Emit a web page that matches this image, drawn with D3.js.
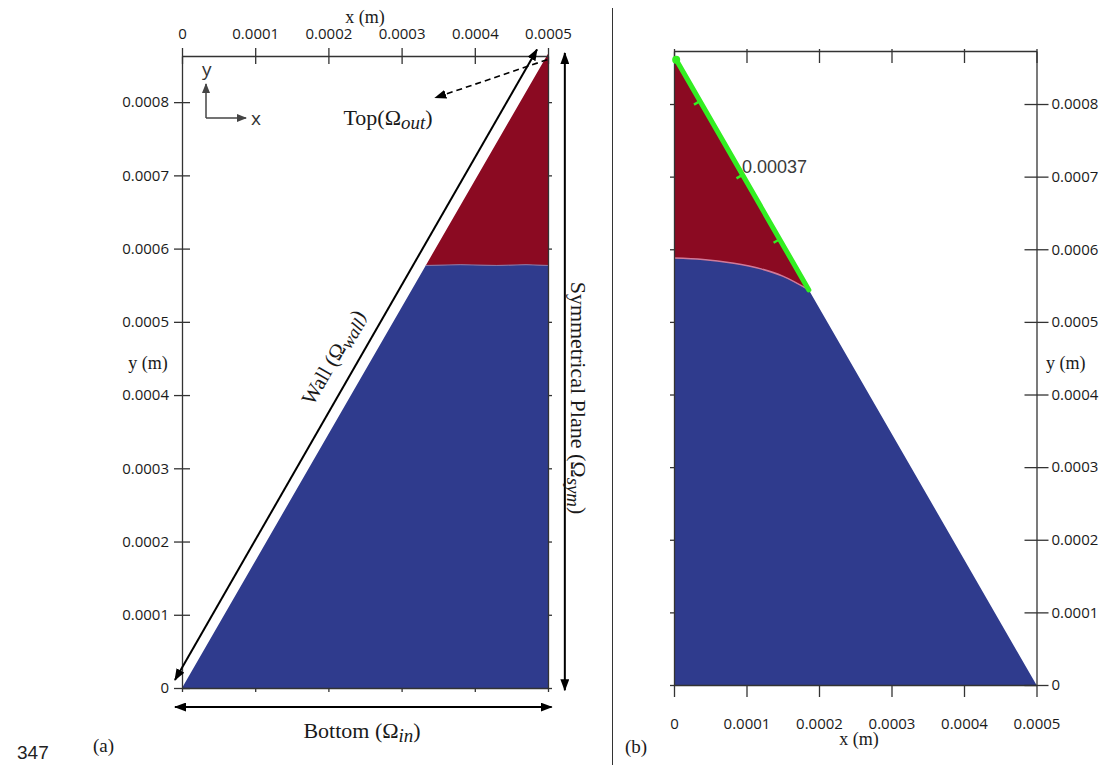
<!DOCTYPE html>
<html>
<head>
<meta charset="utf-8">
<script src="https://cdn.jsdelivr.net/npm/d3@7"></script>
<style>
    body { margin: 0; background: #fff; }
    .tick text { font-family: "Open Sans", sans-serif; font-size: 15px; fill: #1a1a1a; }
    .tick line, .domain { stroke: #333; stroke-width: 1.3px; }
    .serif { font-family: "Liberation Serif", "DejaVu Serif", serif; fill: #1a1a1a; }
</style>
</head>
<body>
<svg id="chart" width="1101" height="770"></svg>
<script>
// ticks (metres)
var xTicks = [0, 0.0001, 0.0002, 0.0003, 0.0004, 0.0005];
var yTicks = [0, 0.0001, 0.0002, 0.0003, 0.0004, 0.0005, 0.0006, 0.0007, 0.0008];
var tipY = 0.000866;   // apex of the 60 deg wall

// panel (a): liquid / gas interface
var aInterface = [[0.000333, 0.000577], [0.00038, 0.000578], [0.00043, 0.000577], [0.00047, 0.000578], [0.0005, 0.000577]];
// panel (b): curved interface from the axis to the wall
var bInterface = [[0, 0.000588], [0.00004, 0.000586], [0.00008, 0.000581], [0.00012, 0.000573], [0.00015, 0.000563], [0.000186, 0.000544]];
// green measuring line along the wall in (b)
var bGreen = [[0.000003, 0.000861], [0.000186, 0.000544]];
var greenLabel = "0.00037";

// arrows of panel (a), data units
var wallArrow = [[-0.0000096, 0.000011], [0.000485, 0.000872]];
var symArrow = [[0.000523, -0.000003], [0.000523, 0.000867]];
var bottomArrow = [[-0.0000096, -0.000026], [0.000505, -0.000026]];
var topArrow = [[0.000499, 0.000858], [0.000346, 0.000806]];

var svg = d3.select("#chart");
var fmt = function(d) { return d === 0 ? "0" : d.toFixed(4); };

var defs = svg.append("defs");
defs.append("marker").attr("id", "ah")
    .attr("viewBox", "0 0 12 9").attr("refX", 11).attr("refY", 4.5)
    .attr("markerWidth", 12).attr("markerHeight", 9)
    .attr("markerUnits", "userSpaceOnUse").attr("orient", "auto-start-reverse")
    .append("path").attr("d", "M0,0L12,4.5L0,9z").attr("fill", "#000");
defs.append("marker").attr("id", "ahg")
    .attr("viewBox", "0 0 10 8").attr("refX", 9).attr("refY", 4)
    .attr("markerWidth", 10).attr("markerHeight", 8)
    .attr("markerUnits", "userSpaceOnUse").attr("orient", "auto")
    .append("path").attr("d", "M0,0L10,4L0,8z").attr("fill", "#444");

// ---------------- panel (a) ----------------
var xA = d3.scaleLinear().domain([0, 0.0005]).range([182, 548]);
var yA = d3.scaleLinear().domain([0, 0.000863]).range([688, 56]);
var lineA = d3.line().x(function(d) { return xA(d[0]); }).y(function(d) { return yA(d[1]); });

var aBlue = [[0, 0], [0.0005, 0]].concat(aInterface.slice().reverse());
var aRed = aInterface.concat([[0.0005, tipY]]);
svg.append("path").attr("d", lineA(aBlue) + "Z").attr("fill", "#2f3b8d");
svg.append("path").attr("d", lineA(aRed) + "Z").attr("fill", "#8b0a22");
svg.append("path").attr("d", lineA(aInterface)).attr("fill", "none").attr("stroke", "#8a7aa8").attr("stroke-width", 1);

var gA = svg.append("g");
var axTopA = gA.append("g").attr("transform", "translate(0," + yA.range()[1] + ")")
    .call(d3.axisTop(xA).tickValues(xTicks).tickFormat(fmt).tickSizeInner(8).tickSizeOuter(0).tickPadding(9));
axTopA.selectAll(".tick line").attr("y1", 8);
var axLeftA = gA.append("g").attr("transform", "translate(" + xA(0) + ",0)")
    .call(d3.axisLeft(yA).tickValues(yTicks).tickFormat(fmt).tickSizeInner(8).tickSizeOuter(0).tickPadding(5));
axLeftA.selectAll(".tick line").attr("x1", 8);
gA.append("g").attr("transform", "translate(0," + yA(0) + ")")
    .call(d3.axisBottom(xA).tickValues(xTicks).tickFormat("").tickSizeInner(4).tickSizeOuter(0));
gA.append("g").attr("transform", "translate(" + xA(0.0005) + ",0)")
    .call(d3.axisRight(yA).tickValues(yTicks).tickFormat("").tickSizeInner(4).tickSizeOuter(0));

gA.append("text").attr("class", "serif").attr("x", 365).attr("y", 23).attr("text-anchor", "middle")
    .attr("font-size", 18).text("x (m)");
gA.append("text").attr("class", "serif").attr("x", 148).attr("y", 369).attr("text-anchor", "middle")
    .attr("font-size", 18).text("y (m)");

// arrows
[wallArrow, symArrow, bottomArrow].forEach(function(a) {
    svg.append("path").attr("d", lineA(a)).attr("stroke", "#000").attr("stroke-width", 2)
        .attr("fill", "none").attr("marker-start", "url(#ah)").attr("marker-end", "url(#ah)");
});
svg.append("path").attr("d", lineA(topArrow)).attr("stroke", "#000").attr("stroke-width", 1.6)
    .attr("stroke-dasharray", "6,4").attr("fill", "none").attr("marker-end", "url(#ah)");

// coordinate glyph
svg.append("path").attr("d", "M206,118V84").attr("stroke", "#444").attr("stroke-width", 1.5).attr("fill", "none").attr("marker-end", "url(#ahg)");
svg.append("path").attr("d", "M206,118H246").attr("stroke", "#444").attr("stroke-width", 1.5).attr("fill", "none").attr("marker-end", "url(#ahg)");
svg.append("text").attr("x", 202).attr("y", 76).attr("font-family", "Open Sans, sans-serif").attr("font-size", 19).attr("fill", "#333").text("y");
svg.append("text").attr("x", 251).attr("y", 125).attr("font-family", "Open Sans, sans-serif").attr("font-size", 19).attr("fill", "#333").text("x");

function mathLabel(sel, base, sub, size) {
    sel.append("tspan").text(base + "\u03A9");
    sel.append("tspan").attr("font-style", "italic").attr("font-size", size * 0.86).attr("dy", size * 0.2).text(sub);
    sel.append("tspan").attr("dy", -size * 0.2).text(")");
}
var tTop = svg.append("text").attr("class", "serif").attr("x", 388).attr("y", 125)
    .attr("text-anchor", "middle").attr("font-size", 22);
mathLabel(tTop, "Top(", "out", 22);
var tWall = svg.append("text").attr("class", "serif").attr("text-anchor", "middle").attr("font-size", 21)
    .attr("transform", "translate(333,357) rotate(-60)").attr("dy", "0.35em");
mathLabel(tWall, "Wall (", "wall", 21);
var tSym = svg.append("text").attr("class", "serif").attr("text-anchor", "middle").attr("font-size", 22)
    .attr("transform", "translate(579,398) rotate(90)").attr("dy", "0.35em");
mathLabel(tSym, "Symmetrical Plane (", "sym", 22);
var tBot = svg.append("text").attr("class", "serif").attr("x", 362).attr("y", 738)
    .attr("text-anchor", "middle").attr("font-size", 22);
mathLabel(tBot, "Bottom (", "in", 22);

svg.append("text").attr("class", "serif").attr("x", 93).attr("y", 752).attr("font-size", 19).text("(a)");
svg.append("text").attr("x", 17).attr("y", 759).attr("font-family", "Liberation Sans, sans-serif")
    .attr("font-size", 19).attr("fill", "#222").text("347");

// separator
svg.append("line").attr("x1", 612.5).attr("x2", 612.5).attr("y1", 8).attr("y2", 765)
    .attr("stroke", "#333").attr("stroke-width", 1);

// ---------------- panel (b) ----------------
var xB = d3.scaleLinear().domain([0, 0.0005]).range([674, 1036.5]);
var yB = d3.scaleLinear().domain([0, 0.000873]).range([685, 51]);
var lineB = d3.line().x(function(d) { return xB(d[0]); }).y(function(d) { return yB(d[1]); });
var curveB = d3.line().x(function(d) { return xB(d[0]); }).y(function(d) { return yB(d[1]); }).curve(d3.curveMonotoneX);

var last = bInterface[bInterface.length - 1];
svg.append("path").attr("d", "M" + xB(0) + "," + yB(0) + "L" + xB(0.0005) + "," + yB(0) + "L" +
    xB(last[0]) + "," + yB(last[1]) +
    curveB(bInterface.slice().reverse()).replace(/^M[^CL]*/, "") + "Z").attr("fill", "#2f3b8d");
svg.append("path").attr("d", curveB(bInterface) + "L" + xB(0) + "," + yB(tipY) + "Z").attr("fill", "#8b0a22");
svg.append("path").attr("d", curveB(bInterface)).attr("fill", "none").attr("stroke", "#d07a9a").attr("stroke-width", 1.5);

var gB = svg.append("g");
var axTopB = gB.append("g").attr("transform", "translate(0," + yB.range()[1] + ")")
    .call(d3.axisTop(xB).tickValues(xTicks).tickFormat("").tickSizeInner(2).tickSizeOuter(0));
axTopB.selectAll(".tick line").attr("y1", 12);
gB.append("g").attr("transform", "translate(" + xB(0) + ",0)")
    .call(d3.axisLeft(yB).tickValues(yTicks).tickFormat("").tickSizeInner(4).tickSizeOuter(0));
gB.append("g").attr("transform", "translate(0," + yB(0) + ")")
    .call(d3.axisBottom(xB).tickValues(xTicks).tickFormat(fmt).tickSizeInner(12).tickSizeOuter(0).tickPadding(21));
var axRightB = gB.append("g").attr("transform", "translate(" + xB(0.0005) + ",0)")
    .call(d3.axisRight(yB).tickValues(yTicks).tickFormat(fmt).tickSizeInner(12).tickSizeOuter(0).tickPadding(3));
axRightB.selectAll(".tick line").attr("x1", -12);

gB.append("text").attr("class", "serif").attr("x", 859).attr("y", 745).attr("text-anchor", "middle")
    .attr("font-size", 18).text("x (m)");
gB.append("text").attr("class", "serif").attr("x", 1046).attr("y", 369).attr("font-size", 18).text("y (m)");
gB.append("text").attr("class", "serif").attr("x", 625).attr("y", 753).attr("font-size", 19).text("(b)");

// green measuring line
svg.append("path").attr("d", lineB(bGreen)).attr("stroke", "#33ee22").attr("stroke-width", 5)
    .attr("stroke-linecap", "round").attr("fill", "none");
var gx0 = xB(bGreen[0][0]), gy0 = yB(bGreen[0][1]), gx1 = xB(bGreen[1][0]), gy1 = yB(bGreen[1][1]);
var glen = Math.hypot(gx1 - gx0, gy1 - gy0), ux = (gx1 - gx0) / glen, uy = (gy1 - gy0) / glen;
[0.18, 0.5, 0.78].forEach(function(t) {
    var px = gx0 + t * (gx1 - gx0), py = gy0 + t * (gy1 - gy0);
    svg.append("line").attr("x1", px).attr("y1", py).attr("x2", px - uy * 7).attr("y2", py + ux * 7)
        .attr("stroke", "#33ee22").attr("stroke-width", 2.5);
});
svg.append("circle").attr("cx", gx0).attr("cy", gy0).attr("r", 4).attr("fill", "#33ee22");
svg.append("text").attr("x", 742).attr("y", 173).attr("font-family", "Liberation Sans, sans-serif")
    .attr("font-size", 18).attr("fill", "#3a3a3a").text(greenLabel);
</script>
</body>
</html>
